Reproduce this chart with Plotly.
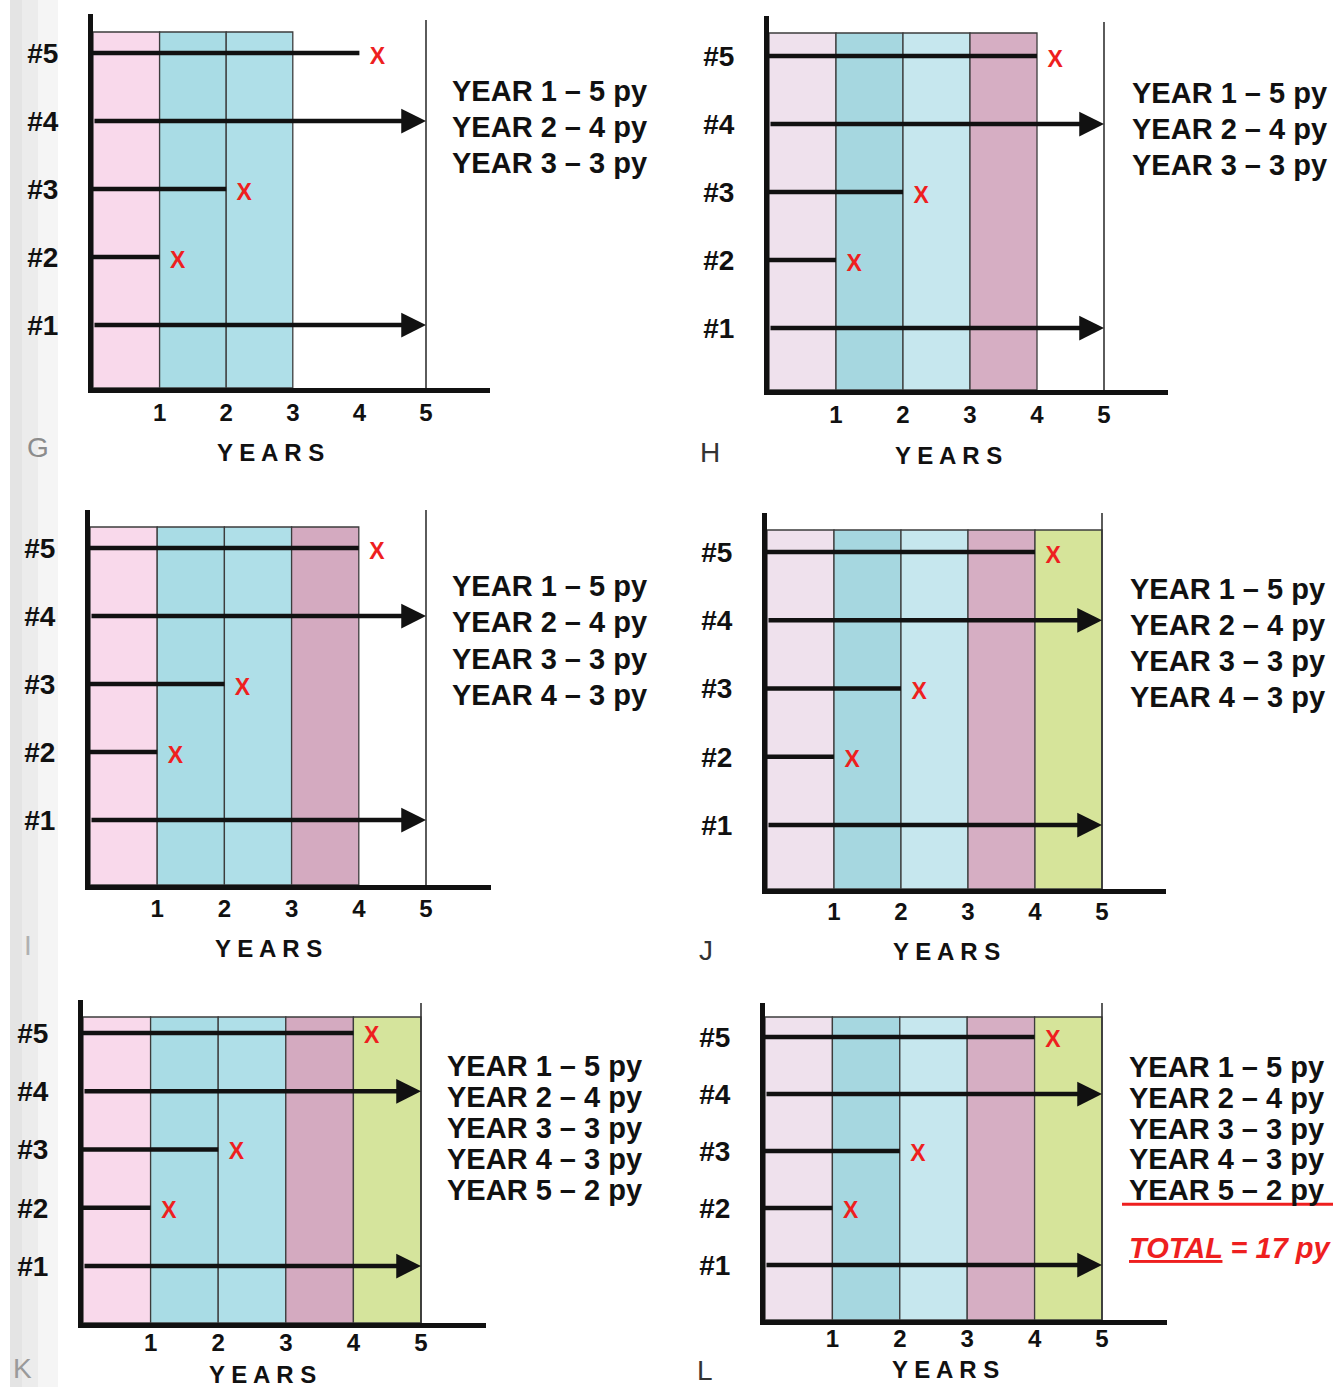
import plotly.graph_objects as go

W, H = 1340, 1387
FONT = "Liberation Sans, Arial, sans-serif"

# ---------------- data ----------------
persons = ["#1", "#2", "#3", "#4", "#5"]
person_row = [1, 2, 3, 4, 5]
follow_end = [5, 1, 2, 5, 4]          # year at which follow-up stops
had_event = [False, True, True, False, True]
year_ticks = [1, 2, 3, 4, 5]
py_per_year = [5, 4, 3, 3, 2]
total_py = 17
panel_names = ["G", "H", "I", "J", "K", "L"]
panel_years_shaded = [3, 4, 4, 5, 5, 5]
panel_text_lines = [3, 3, 4, 4, 5, 5]
panel_show_total = [False, False, False, False, False, True]

# ---------------- styles / layout ----------------
pal_bright = ["#f9d9eb", "#a9dce5", "#afdfe8", "#d4aac0", "#d5e49c"]
pal_muted = ["#efe1ed", "#a6d7e0", "#c6e7ee", "#d6aec3", "#d6e49a"]
panel_pal = [pal_bright, pal_muted, pal_bright, pal_muted, pal_bright, pal_muted]

# x0 px, px per year, row1 px, px per row, bottom px, axis top px, rect top px, vline top px, tick label standoff
geom = [
    dict(x0=93, ux=66.6, row1=325, uy=68.0, bottom=388, axtop=14, recttop=32, vtop=20, so=-1),
    dict(x0=769, ux=67.0, row1=328, uy=68.0, bottom=390, axtop=16, recttop=33, vtop=22, so=-1),
    dict(x0=90, ux=67.2, row1=820, uy=68.0, bottom=885, axtop=510, recttop=527, vtop=510, so=-2),
    dict(x0=767, ux=67.0, row1=825, uy=68.25, bottom=889, axtop=513, recttop=530, vtop=513, so=-3),
    dict(x0=83, ux=67.6, row1=1266, uy=58.25, bottom=1323, axtop=1000, recttop=1017, vtop=1003, so=-6),
    dict(x0=765, ux=67.4, row1=1265, uy=57.0, bottom=1320, axtop=1003, recttop=1017, vtop=1003, so=-7),
]
text_pos = [
    dict(x=450, y=91, sp=36.0),
    dict(x=1130, y=93, sp=36.0),
    dict(x=450, y=586, sp=36.3),
    dict(x=1128, y=589, sp=36.0),
    dict(x=445, y=1066, sp=31.0),
    dict(x=1127, y=1067, sp=30.8),
]
years_pos = [(270, 453), (948, 455), (268, 948), (946, 951), (262, 1374), (945, 1369)]
letter_pos = [(38, 447, "#8c8c8c"), (710, 453, "#333333"), (28, 945, "#b0b0b0"),
              (706, 950, "#333333"), (22, 1368, "#9a9a9a"), (705, 1370, "#333333")]
XEND = 5.96
RED = "#ee1f1f"

fig = go.Figure()
shapes = []
annotations = []

# faint scan shading on the left edge
for (a, b, c) in [(10, 22, "#e4e4e4"), (22, 38, "#ececec"), (38, 58, "#f5f5f5")]:
    shapes.append(dict(type="rect", xref="paper", yref="paper", x0=a / W, x1=b / W, y0=0, y1=1,
                       fillcolor=c, line=dict(width=0), layer="below"))


def px_x(p):
    return p / W


def px_y(p):
    return 1 - p / H


for i, name in enumerate(panel_names):
    g = geom[i]
    n = i + 1
    xa = "x" if n == 1 else f"x{n}"
    ya = "y" if n == 1 else f"y{n}"
    xname = "xaxis" if n == 1 else f"xaxis{n}"
    yname = "yaxis" if n == 1 else f"yaxis{n}"
    yb = 1 + (g["row1"] - g["bottom"]) / g["uy"]
    yt = 1 + (g["row1"] - g["axtop"]) / g["uy"]
    yrect = 1 + (g["row1"] - g["recttop"]) / g["uy"]
    yv = 1 + (g["row1"] - g["vtop"]) / g["uy"]

    fig.layout[xname] = dict(
        domain=[px_x(g["x0"]), px_x(g["x0"] + XEND * g["ux"])], range=[0, XEND],
        anchor=ya, showline=True, linewidth=5, linecolor="#111111",
        showgrid=False, zeroline=False, tickvals=year_ticks,
        ticks="", ticklabelstandoff=g["so"],
        tickfont=dict(family=FONT, size=24, color="#111111", weight=700),
        fixedrange=True)
    fig.layout[yname] = dict(
        domain=[px_y(g["bottom"]), px_y(g["axtop"])], range=[yb, yt],
        anchor=xa, showline=True, linewidth=5, linecolor="#111111",
        showgrid=False, zeroline=False, tickvals=person_row, ticktext=persons,
        ticks="outside", ticklen=24, tickcolor="rgba(0,0,0,0)",
        tickfont=dict(family=FONT, size=28, color="#111111", weight=700),
        fixedrange=True)

    pal = panel_pal[i]
    for k in range(panel_years_shaded[i]):
        shapes.append(dict(type="rect", xref=xa, yref=ya, x0=k, x1=k + 1, y0=yb, y1=yrect,
                           fillcolor=pal[k], line=dict(color="#3c3c3c", width=1.3), layer="below"))
    shapes.append(dict(type="line", xref=xa, yref=ya, x0=5, x1=5, y0=yb, y1=yv,
                       line=dict(color="#333333", width=1.6), layer="below"))

    for r, end, ev in zip(person_row, follow_end, had_event):
        if ev:
            fig.add_trace(go.Scatter(x=[0, end], y=[r, r], xaxis=xa, yaxis=ya, mode="lines",
                                     line=dict(color="#111111", width=4.5), hoverinfo="skip",
                                     showlegend=False))
            fig.add_trace(go.Scatter(x=[end + 0.27], y=[r - 0.07], xaxis=xa, yaxis=ya, mode="text",
                                     text=["<b>X</b>"], textfont=dict(family=FONT, size=23, color=RED),
                                     hoverinfo="skip", showlegend=False))
        else:
            annotations.append(dict(x=end, y=r, ax=0, ay=r, xref=xa, yref=ya, axref=xa, ayref=ya,
                                    text="", showarrow=True, arrowhead=2, arrowsize=1.1,
                                    arrowwidth=4.5, arrowcolor="#111111"))

    tp = text_pos[i]
    for k in range(panel_text_lines[i]):
        annotations.append(dict(x=px_x(tp["x"]), y=px_y(tp["y"] + k * tp["sp"]), xref="paper", yref="paper",
                                xanchor="left", yanchor="middle", showarrow=False,
                                text=f"YEAR {year_ticks[k]} – {py_per_year[k]} py",
                                font=dict(family=FONT, size=29, color="#111111", weight=700)))
    if panel_show_total[i]:
        ly = tp["y"] + (panel_text_lines[i] - 1) * tp["sp"] + 14
        shapes.append(dict(type="line", xref="paper", yref="paper", x0=px_x(1122), x1=px_x(1333),
                           y0=px_y(ly), y1=px_y(ly), line=dict(color=RED, width=3)))
        annotations.append(dict(x=px_x(tp["x"]), y=px_y(1248), xref="paper", yref="paper",
                                xanchor="left", yanchor="middle", showarrow=False,
                                text=f"<i><u>TOTAL</u> = {total_py} py</i>",
                                font=dict(family=FONT, size=29, color=RED, weight=700)))

    yx, yy = years_pos[i]
    annotations.append(dict(x=px_x(yx), y=px_y(yy), xref="paper", yref="paper",
                            xanchor="center", yanchor="middle", showarrow=False,
                            text="Y E A R S", font=dict(family=FONT, size=24, color="#111111", weight=700)))
    lx, lyy, lc = letter_pos[i]
    annotations.append(dict(x=px_x(lx), y=px_y(lyy), xref="paper", yref="paper",
                            xanchor="center", yanchor="middle", showarrow=False,
                            text=name, font=dict(family=FONT, size=28, color=lc)))

fig.update_layout(width=W, height=H, margin=dict(l=0, r=0, t=0, b=0),
                  paper_bgcolor="white", plot_bgcolor="rgba(0,0,0,0)",
                  showlegend=False, shapes=shapes, annotations=annotations)
fig.write_html("out.html", config={"displayModeBar": False},
               post_script="document.body.style.margin='0';document.body.style.overflow='hidden';")
